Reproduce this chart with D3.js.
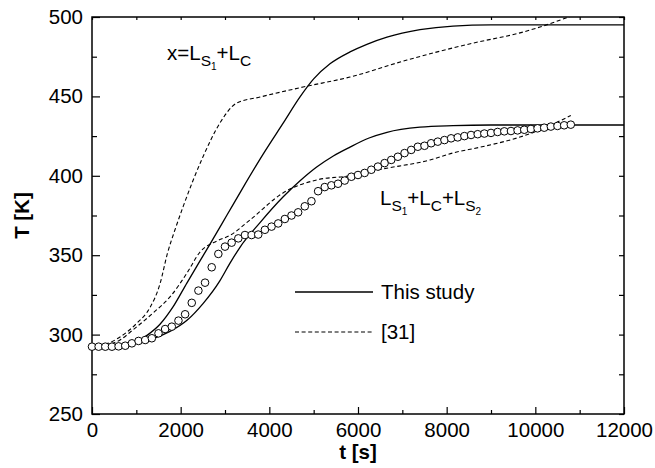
<!DOCTYPE html>
<html>
<head>
<meta charset="utf-8">
<script src="https://cdn.jsdelivr.net/npm/d3@7"></script>
<style>
  body { margin: 0; background: #fff; }
  text { font-family: "Liberation Sans", Arial, sans-serif; fill: #000; }
  .tick text { font-size: 20.5px; }
  .tick line { stroke: #000; stroke-width: 1.2; }
  .axis-title { font-size: 20.5px; font-weight: bold; }
  .lbl { font-size: 20.5px; }
</style>
</head>
<body>
<div id="chart"></div>
<script>
// Plot box
const W = 655, H = 468;
const margin = { top: 17, right: 31, bottom: 54, left: 92 };
const width = W - margin.left - margin.right;
const height = H - margin.top - margin.bottom;

// Axis ticks
const xTicks = [0, 2000, 4000, 6000, 8000, 10000, 12000];
const xMinor = [1000, 3000, 5000, 7000, 9000, 11000];
const yTicks = [250, 300, 350, 400, 450, 500];
const yMinor = [275, 325, 375, 425, 475];

// This study, x = Ls1 + Lc
const solidUpT = [0, 500, 1000, 1241, 1534, 1827, 2143, 2504, 2662, 3045, 3406, 3857, 4308, 4700, 5000, 5368, 5820, 6200, 6654, 7398, 8143, 9000, 12000];
const solidUpY = [293, 293.3, 295.3, 299.5, 306.5, 317.4, 332.6, 349.6, 357, 375.3, 392.6, 413.5, 433, 450, 461, 470.5, 478, 482.8, 487.3, 492, 494.3, 495, 495];

// This study, Ls1 + Lc + Ls2
const solidLoT = [0, 600, 1015, 1376, 1759, 2143, 2504, 2887, 3113, 3338, 3790, 4308, 4700, 5068, 5443, 5820, 6250, 6654, 7398, 8143, 9000, 12000];
const solidLoY = [293, 293.4, 295, 297.5, 302, 309, 319.5, 334, 345, 355, 370.5, 386.6, 397, 405.5, 412.5, 418.1, 423.8, 427.4, 430.6, 431.6, 432, 432];

// [31], x = Ls1 + Lc
const dashUpT = [0, 300, 632, 1015, 1308, 1534, 1700, 1872, 2053, 2504, 2887, 3263, 3790, 4760, 5820, 7105, 8600, 9654, 10105, 10800];
const dashUpY = [293, 294, 298.5, 307.3, 317, 332, 351, 366, 380.4, 412, 433.3, 445.8, 449.6, 455.9, 462.2, 472.9, 483.6, 490, 493.7, 500.5];

// [31], Ls1 + Lc + Ls2
const dashLoT = [0, 300, 632, 925, 1376, 1759, 2143, 2436, 2820, 3113, 3564, 4308, 5068, 5820, 6500, 7624, 8143, 8752, 9654, 10200, 10800];
const dashLoY = [293, 293.5, 296.6, 303, 313.6, 323.7, 338.8, 352, 359, 362.5, 372.2, 389.2, 397.4, 400, 404, 410, 414.4, 418, 424.4, 430, 438];

// Measured (circles)
const measT = [0, 150, 300, 450, 600, 750, 900, 1050, 1200, 1350, 1500, 1650, 1800, 1950, 2100, 2250, 2400, 2550, 2700, 2850,
  3000, 3150, 3300, 3450, 3600, 3750, 3900, 4050, 4200, 4350, 4500, 4650, 4800, 4950, 5100, 5250, 5400, 5550, 5700, 5850,
  6000, 6150, 6300, 6450, 6600, 6750, 6900, 7050, 7200, 7350, 7500, 7650, 7800, 7950, 8100, 8250, 8400, 8550, 8700, 8850,
  9000, 9150, 9300, 9450, 9600, 9750, 9900, 10050, 10200, 10350, 10500, 10650, 10800];
const measY = [292.4, 292.4, 292.4, 292.4, 292.6, 293, 294.5, 296, 296.6, 297.7, 300.8, 303.5, 305, 308.8, 312.8, 320, 327.7, 332.7, 342.4, 350.8,
  355.4, 357.9, 360.6, 362.7, 362.7, 363, 366, 368, 370, 372.8, 375, 377, 380.8, 384, 390.3, 392.9, 394, 395, 397, 399.4,
  400.5, 401.8, 403.8, 405.8, 408, 410, 412, 414.3, 416.3, 418.3, 418.9, 420.5, 421.5, 422.5, 423.6, 424.2, 425, 425.7, 426.2, 426.6,
  427, 427.6, 428, 428.2, 428.6, 429, 429.5, 429.9, 430.3, 431, 431.4, 431.8, 432.2];

const zip = (ts, ys) => ts.map((t, i) => ({ t: t, y: ys[i] }));

const svg = d3.select("#chart").append("svg")
  .attr("width", W).attr("height", H);

const g = svg.append("g")
  .attr("transform", "translate(" + margin.left + "," + margin.top + ")");

const x = d3.scaleLinear().domain([0, 12000]).range([0, width]);
const y = d3.scaleLinear().domain([250, 500]).range([height, 0]);

svg.append("defs").append("clipPath").attr("id", "clip")
  .append("rect").attr("width", width).attr("height", height);

// Axes (ticks point inward)
g.append("g").attr("transform", "translate(0," + height + ")")
  .call(d3.axisBottom(x).tickValues(xTicks).tickFormat(d3.format("d"))
    .tickSizeInner(-7).tickSizeOuter(0).tickPadding(8));
g.append("g").attr("transform", "translate(0," + height + ")")
  .call(d3.axisBottom(x).tickValues(xMinor).tickSizeInner(-4).tickSizeOuter(0).tickFormat(""));
g.append("g")
  .call(d3.axisLeft(y).tickValues(yTicks).tickFormat(d3.format("d"))
    .tickSizeInner(-8).tickSizeOuter(0).tickPadding(9));
g.append("g")
  .call(d3.axisLeft(y).tickValues(yMinor).tickSizeInner(-5).tickSizeOuter(0).tickFormat(""));
g.append("g").attr("transform", "translate(" + width + ",0)")
  .call(d3.axisRight(y).tickValues(yTicks.concat(yMinor)).tickSizeInner(-5).tickSizeOuter(0).tickFormat(""));
g.append("g")
  .call(d3.axisTop(x).tickValues(xTicks.concat(xMinor)).tickSizeInner(-3).tickSizeOuter(0).tickFormat(""));
g.selectAll(".domain").remove();
g.selectAll(".tick text").attr("font-family", null).attr("font-size", null);

// Frame
g.append("rect")
  .attr("width", width).attr("height", height)
  .attr("fill", "none").attr("stroke", "#000").attr("stroke-width", 1.5);

// Curves
const line = d3.line()
  .x(function(d) { return x(d.t); })
  .y(function(d) { return y(d.y); })
  .curve(d3.curveMonotoneX);

const plot = g.append("g").attr("clip-path", "url(#clip)");

[zip(solidUpT, solidUpY), zip(solidLoT, solidLoY)].forEach(function(d) {
  plot.append("path").datum(d)
    .attr("fill", "none").attr("stroke", "#000").attr("stroke-width", 1.3)
    .attr("d", line);
});
[zip(dashUpT, dashUpY), zip(dashLoT, dashLoY)].forEach(function(d) {
  plot.append("path").datum(d)
    .attr("fill", "none").attr("stroke", "#000").attr("stroke-width", 1.1)
    .attr("stroke-dasharray", "4,2.6")
    .attr("d", line);
});

// Measured points
g.append("g").selectAll("circle")
  .data(zip(measT, measY))
  .join("circle")
  .attr("cx", function(d) { return x(d.t); })
  .attr("cy", function(d) { return y(d.y); })
  .attr("r", 3.8)
  .attr("fill", "#fff").attr("stroke", "#000").attr("stroke-width", 1);

// Legend
const legend = g.append("g").attr("transform", "translate(203,275)");
legend.append("line").attr("x1", 0).attr("x2", 78).attr("y1", 0).attr("y2", 0)
  .attr("stroke", "#000").attr("stroke-width", 1.3);
legend.append("text").attr("class", "lbl").attr("x", 86).attr("y", 7).text("This study");
legend.append("line").attr("x1", 0).attr("x2", 78).attr("y1", 40).attr("y2", 40)
  .attr("stroke", "#000").attr("stroke-width", 1.1).attr("stroke-dasharray", "4,2.6");
legend.append("text").attr("class", "lbl").attr("x", 86).attr("y", 47).text("[31]");

// Labels with subscripts
function subText(px, py, parts) {
  const t = svg.append("text").attr("class", "lbl").attr("x", px).attr("y", py);
  let cur = 0;
  const shift = [0, 6, 10];
  const size = [20.5, 15.5, 10];
  parts.forEach(function(p) {
    t.append("tspan")
      .attr("dy", shift[p[1]] - cur)
      .attr("font-size", size[p[1]] + "px")
      .text(p[0]);
    cur = shift[p[1]];
  });
}
subText(167, 60, [["x=L", 0], ["S", 1], ["1", 2], ["+L", 0], ["C", 1]]);
subText(380, 205, [["L", 0], ["S", 1], ["1", 2], ["+L", 0], ["C", 1], ["+L", 0], ["S", 1], ["2", 2]]);

// Axis titles
svg.append("text").attr("class", "axis-title")
  .attr("text-anchor", "middle")
  .attr("transform", "translate(29," + (margin.top + height / 2) + ") rotate(-90)")
  .text("T [K]");
svg.append("text").attr("class", "axis-title")
  .attr("text-anchor", "middle")
  .attr("x", margin.left + width / 2).attr("y", 459)
  .text("t [s]");
</script>
</body>
</html>
